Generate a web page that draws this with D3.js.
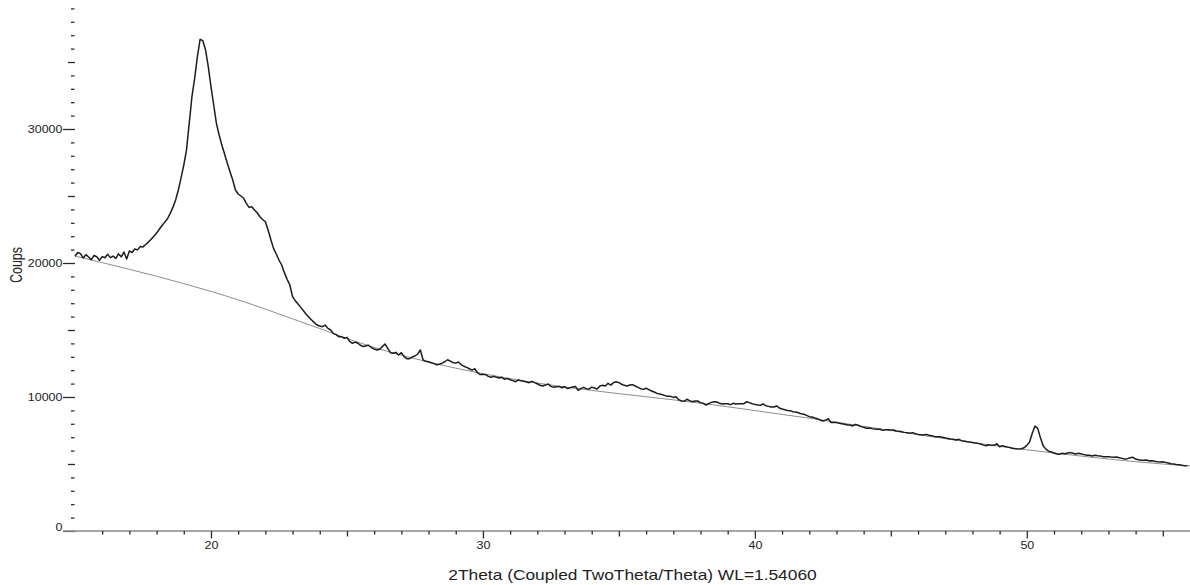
<!DOCTYPE html>
<html>
<head>
<meta charset="utf-8">
<script src="https://cdn.jsdelivr.net/npm/d3@7"></script>
<style>
  html, body { margin: 0; padding: 0; background: #fff; }
  svg { display: block; }
  text { font-family: "Liberation Sans", Arial, sans-serif; fill: #222; }
</style>
</head>
<body>
<svg id="chart" width="1190" height="585"></svg>
<script>
// Diffractogram: measured intensity on a 0.1 degree 2Theta grid, plus fitted background.
const thetaStart = 15.0;
const thetaStep = 0.1;

// Measured counts, one row per degree (15.0 ... 55.9)
const counts = [
  20500,20780,20700,20380,20620,20450,20250,20560,20470,20200,
  20480,20390,20650,20400,20520,20350,20680,20460,20820,20300,
  20900,20780,21050,20980,21230,21200,21380,21560,21780,22000,
  22230,22520,22800,23050,23300,23700,24150,24700,25450,26350,
  27310,28430,30420,32410,33780,35400,36690,36590,35900,34650,
  33160,31790,30420,29550,28800,28130,27440,26810,26190,25450,
  25150,25000,24830,24450,24150,24200,23950,23750,23450,23250,
  23080,22460,21760,21090,20670,20220,19850,19280,18780,18360,
  17490,17190,16940,16690,16440,16170,15950,15750,15550,15370,
  15300,15250,15370,15120,15000,14750,14650,14500,14500,14380,
  14450,14150,14010,14100,14010,13860,13760,13830,13860,13680,
  13580,13510,13560,13760,13960,13630,13310,13260,13330,13130,
  13310,13010,12860,12860,12980,13060,13210,13510,12760,12660,
  12630,12560,12490,12410,12440,12530,12630,12780,12680,12560,
  12530,12610,12410,12290,12210,12110,12010,12110,11810,11670,
  11690,11670,11540,11470,11540,11470,11420,11470,11320,11390,
  11290,11220,11140,11270,11220,11170,11120,11070,11170,11070,
  10990,10870,10820,10890,10970,10790,10720,10770,10790,10690,
  10770,10640,10690,10740,10790,10490,10620,10720,10620,10590,
  10740,10670,10590,10820,10870,10820,11020,10890,11070,11140,
  11070,10950,10870,10820,10890,10920,10820,10720,10620,10570,
  10650,10550,10450,10370,10270,10220,10170,10100,10050,10050,
  9970,10020,9800,9700,9680,9830,9730,9650,9700,9700,
  9580,9530,9400,9500,9600,9650,9630,9530,9480,9500,
  9500,9430,9530,9480,9500,9500,9500,9650,9580,9500,
  9450,9400,9380,9480,9350,9300,9250,9250,9330,9180,
  9100,9050,9000,8980,8900,8880,8830,8750,8710,8630,
  8530,8510,8430,8380,8280,8210,8260,8380,8090,8090,
  8090,8040,8010,7960,7910,7910,7840,7960,7890,7790,
  7740,7660,7690,7640,7610,7590,7590,7510,7560,7560,
  7540,7540,7460,7440,7410,7360,7340,7290,7340,7260,
  7210,7190,7160,7210,7140,7110,7060,7040,7040,6990,
  6940,6910,6860,6840,6790,6840,6740,6710,6660,6640,
  6610,6560,6540,6490,6410,6360,6440,6390,6390,6510,
  6290,6360,6310,6260,6210,6160,6140,6110,6140,6210,
  6390,6640,7290,7840,7660,6960,6360,6110,5960,5890,
  5820,5750,5720,5800,5770,5820,5850,5800,5750,5800,
  5750,5700,5650,5650,5600,5650,5620,5600,5550,5550,
  5550,5520,5500,5520,5470,5420,5370,5400,5470,5500,
  5370,5320,5280,5280,5300,5230,5250,5200,5170,5150,
  5170,5120,5070,5020,5000,4970,4950,4900,4870,4870
];

// Background curve nodes
const backgroundTheta = [15,16,17,18,19,20,21,22,23,24,25,26,27,28,29,30,31,32,33,34,35,
                         36,37,38,39,40,41,42,43,44,45,46,47,48,49,50,51,52,53,54,55,56];
const backgroundCounts = [20520,20030,19530,19010,18460,17880,17250,16560,15830,15110,14370,
                          13700,13120,12610,12150,11740,11370,11040,10750,10490,10250,
                          10020,9790,9540,9270,8990,8700,8420,8120,7810,7500,
                          7190,6890,6600,6320,6060,5820,5590,5370,5170,5000,4860];

// Axis ticks
const xMajorTicks = [20, 30, 40, 50];
const xMediumTicks = [25, 35, 45, 55];
const xMinorStep = 1;
const yMajorTicks = [0, 10000, 20000, 30000];
const yMediumTicks = [5000, 15000, 25000, 35000];
const yMinorStep = 1000;
const xTitle = "2Theta (Coupled TwoTheta/Theta) WL=1.54060";
const yTitle = "Coups";

const TEXT_STRETCH = 1.25;

const svg = d3.select("#chart");
const x = d3.scaleLinear().domain([15, 56]).range([75, 1190]);
const y = d3.scaleLinear().domain([0, 39627]).range([531, 0]);

const xMinorTicks = d3.range(16, 56, xMinorStep).filter(v => v % 5 !== 0);
const yMinorTicks = d3.range(1000, 39001, yMinorStep).filter(v => v % 5000 !== 0);

// ---- X axis baseline (grey), running slightly past the y tick column
svg.append("line")
  .attr("x1", x(15) - 12).attr("x2", x(56))
  .attr("y1", y(0)).attr("y2", y(0))
  .attr("stroke", "#a6a6a6").attr("stroke-width", 2);

// ---- Y axis: three tick layers, no spine
function yLayer(values, size, shift, withLabels) {
  const g = svg.append("g")
    .attr("transform", `translate(${75 + shift},0)`)
    .call(d3.axisLeft(y).tickValues(values).tickSize(size).tickPadding(0)
      .tickFormat(withLabels ? d3.format("d") : () => ""));
  g.select(".domain").remove();
  g.selectAll(".tick line").attr("stroke", "#2a2a2a").attr("stroke-width", 1.3);
  return g;
}
yLayer(yMinorTicks, 3.5, -0.5, false);
yLayer(yMediumTicks, 7, 0, false);
const yMajor = yLayer(yMajorTicks, 12, 0, true);
yMajor.selectAll(".tick line").filter(d => d === 0).attr("stroke", "#777");
yMajor.selectAll(".tick text")
  .attr("font-size", 10)
  .attr("x", -12.5 / TEXT_STRETCH)
  .attr("dy", d => d === 0 ? "-0.1em" : "0.32em")
  .attr("transform", `scale(${TEXT_STRETCH},1)`)
  .style("font-family", '"Liberation Sans", Arial, sans-serif')
  .attr("fill", "#222");

// ---- X axis tick layers
function xLayer(values, size, withLabels) {
  const g = svg.append("g")
    .attr("transform", "translate(0,531)")
    .call(d3.axisBottom(x).tickValues(values).tickSize(size).tickSizeOuter(0).tickPadding(3)
      .tickFormat(withLabels ? d3.format("d") : () => ""));
  g.select(".domain").remove();
  g.selectAll(".tick line").attr("stroke", "#2a2a2a").attr("stroke-width", 1.3);
  return g;
}
xLayer(xMinorTicks, 3.5, false);
xLayer(xMediumTicks, 5.5, false);
const xMajor = xLayer(xMajorTicks, 7.5, true);
xMajor.selectAll(".tick text")
  .attr("font-size", 10)
  .attr("transform", `scale(${TEXT_STRETCH},1)`)
  .style("font-family", '"Liberation Sans", Arial, sans-serif')
  .attr("fill", "#222");

// ---- Background (thin grey)
svg.append("path")
  .datum(backgroundTheta.map((t, i) => [t, backgroundCounts[i]]))
  .attr("fill", "none")
  .attr("stroke", "#8e8e8e")
  .attr("stroke-width", 1)
  .attr("d", d3.line().x(d => x(d[0])).y(d => y(d[1])).curve(d3.curveNatural));

// ---- Measured pattern
svg.append("path")
  .datum(counts)
  .attr("fill", "none")
  .attr("stroke", "#1c1c1c")
  .attr("stroke-width", 1.5)
  .attr("stroke-linejoin", "round")
  .attr("d", d3.line().x((d, i) => x(thetaStart + i * thetaStep)).y(d => y(d)));

// ---- Axis titles
svg.append("text")
  .attr("transform", `translate(${(x.range()[0] + x.range()[1]) / 2},580) scale(1.24,1)`)
  .attr("text-anchor", "middle")
  .attr("font-size", 14)
  .text(xTitle);

svg.append("text")
  .attr("transform", `translate(22,265) scale(${TEXT_STRETCH},1) rotate(-90)`)
  .attr("text-anchor", "middle")
  .attr("font-size", 12.5)
  .text(yTitle);
</script>
</body>
</html>
